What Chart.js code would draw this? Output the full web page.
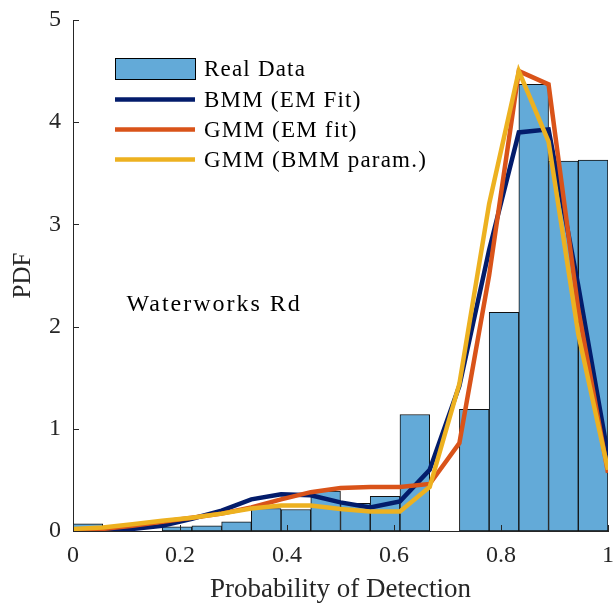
<!DOCTYPE html>
<html>
<head>
<meta charset="utf-8">
<script src="https://cdn.jsdelivr.net/npm/chart.js@4.4.1/dist/chart.umd.min.js"></script>
<style>
  html, body { margin: 0; padding: 0; background: #fff; }
</style>
</head>
<body>
<canvas id="pdfchart" width="613" height="604"></canvas>
<script>
// histogram bins (18 bins of width 1/18) and their heights
const binCenters = [0.0278, 0.0833, 0.1389, 0.1944, 0.25, 0.3056, 0.3611, 0.4167, 0.4722,
                    0.5278, 0.5833, 0.6389, 0.6944, 0.75, 0.8056, 0.8611, 0.9167, 0.9722];
const realData = [0.07, 0, 0, 0.04, 0.05, 0.09, 0.22, 0.21, 0.39,
                  0.27, 0.34, 1.14, 0, 1.19, 2.14, 4.37, 3.62, 3.63];

// fitted curves, evaluated at the bin edges
const curveX = [0, 0.0556, 0.1111, 0.1667, 0.2222, 0.2778, 0.3333, 0.3889, 0.4444, 0.5,
                0.5556, 0.6111, 0.6667, 0.7222, 0.7778, 0.8333, 0.8889, 0.9444, 1];
const bmmFit = [0.0, 0.005, 0.02, 0.05, 0.12, 0.2, 0.31, 0.36, 0.35, 0.28,
                0.23, 0.29, 0.6, 1.42, 2.75, 3.9, 3.93, 2.4, 0.74];
const gmmFit = [0.01, 0.02, 0.05, 0.09, 0.13, 0.17, 0.23, 0.31, 0.38, 0.42,
                0.43, 0.43, 0.46, 0.86, 2.5, 4.5, 4.37, 2.17, 0.57];
const gmmBmmParam = [0.02, 0.035, 0.065, 0.1, 0.13, 0.17, 0.22, 0.25, 0.25, 0.215,
                     0.19, 0.19, 0.43, 1.44, 3.2, 4.5, 3.81, 1.93, 0.6];

const seriesNames = ['Real Data', 'BMM (EM Fit)', 'GMM (EM fit)', 'GMM (BMM param.)'];
const xTicks = [0, 0.2, 0.4, 0.6, 0.8, 1];
const yTicks = [0, 1, 2, 3, 4, 5];
const siteLabel = 'Waterworks Rd';

const FONT = '"Liberation Serif", "Times New Roman", serif';
const AXIS = '#262626';

const toPoints = (xs, ys) => xs.map((x, i) => ({ x: x, y: ys[i] }));

// inward tick marks, legend in the top left, site label
const decorPlugin = {
  id: 'decor',
  afterDatasetsDraw(chart) {
    const ctx = chart.ctx;
    const xs = chart.scales.x, ys = chart.scales.y;
    const area = chart.chartArea;
    ctx.save();
    ctx.strokeStyle = AXIS;
    ctx.lineWidth = 1;
    xTicks.forEach(v => {
      const px = Math.round(xs.getPixelForValue(v)) + 0.5;
      ctx.beginPath();
      ctx.moveTo(px, area.bottom);
      ctx.lineTo(px, area.bottom - 6);
      ctx.stroke();
    });
    yTicks.forEach(v => {
      const py = Math.round(ys.getPixelForValue(v)) + 0.5;
      ctx.beginPath();
      ctx.moveTo(area.left, py);
      ctx.lineTo(area.left + 6, py);
      ctx.stroke();
    });

    // legend
    const ds = chart.data.datasets;
    const lx = 115, lw = 80, tx = 204;
    const rows = [69, 99.5, 129.5, 159.5];
    ctx.font = '23px ' + FONT;
    ctx.letterSpacing = '1.2px';
    ctx.textBaseline = 'middle';
    ds.forEach((d, i) => {
      const y = rows[i];
      if (d.type === 'bar') {
        ctx.fillStyle = d.backgroundColor;
        ctx.fillRect(lx, y - 11, lw, 22);
        ctx.strokeStyle = '#000';
        ctx.lineWidth = 1;
        ctx.strokeRect(lx + 0.5, y - 10.5, lw, 21);
      } else {
        ctx.strokeStyle = d.borderColor;
        ctx.lineWidth = 4.5;
        ctx.beginPath();
        ctx.moveTo(lx, y);
        ctx.lineTo(lx + lw, y);
        ctx.stroke();
      }
      ctx.fillStyle = '#000';
      ctx.fillText(d.label, tx, y + 1);
    });

    // site name
    ctx.font = '24px ' + FONT;
    ctx.letterSpacing = '2px';
    ctx.fillStyle = '#000';
    ctx.fillText(siteLabel, xs.getPixelForValue(0.1), ys.getPixelForValue(2.21));
    ctx.restore();
  }
};

new Chart(document.getElementById('pdfchart'), {
  type: 'bar',
  data: {
    datasets: [
      {
        type: 'bar',
        label: seriesNames[0],
        data: toPoints(binCenters, realData),
        backgroundColor: 'rgb(99,170,216)',
        borderColor: '#111',
        borderWidth: 1,
        borderSkipped: false,
        barPercentage: 1,
        categoryPercentage: 1,
        order: 3
      },
      {
        type: 'line',
        label: seriesNames[1],
        data: toPoints(curveX, bmmFit),
        borderColor: '#031c6b',
        borderWidth: 4.5,
        pointRadius: 0,
        tension: 0,
        order: 2
      },
      {
        type: 'line',
        label: seriesNames[2],
        data: toPoints(curveX, gmmFit),
        borderColor: '#d95319',
        borderWidth: 4.5,
        pointRadius: 0,
        tension: 0,
        order: 1
      },
      {
        type: 'line',
        label: seriesNames[3],
        data: toPoints(curveX, gmmBmmParam),
        borderColor: '#edb120',
        borderWidth: 4.5,
        pointRadius: 0,
        tension: 0,
        order: 0
      }
    ]
  },
  options: {
    responsive: false,
    animation: false,
    layout: { padding: { top: 20, right: 5, left: 0, bottom: 0 } },
    plugins: {
      legend: { display: false },
      tooltip: { enabled: false }
    },
    scales: {
      x: {
        type: 'linear',
        min: 0,
        max: 1,
        offset: false,
        grid: { display: false, drawTicks: false },
        border: { display: true, color: AXIS, width: 1 },
        afterBuildTicks: s => { s.ticks = xTicks.map(v => ({ value: v })); },
        afterFit: s => { s.height = 73; s.paddingLeft = 0; s.paddingRight = 0; },
        ticks: {
          color: AXIS,
          padding: 10,
          maxRotation: 0,
          font: { family: FONT, size: 24 },
          callback: v => String(v)
        },
        title: {
          display: true,
          text: 'Probability of Detection',
          color: AXIS,
          padding: { top: 0, bottom: -2 },
          font: { family: FONT, size: 27 }
        }
      },
      y: {
        min: 0,
        max: 5,
        grid: { display: false, drawTicks: false },
        border: { display: true, color: AXIS, width: 1 },
        afterBuildTicks: s => { s.ticks = yTicks.map(v => ({ value: v })); },
        afterFit: s => { s.width = 73; s.paddingTop = 0; s.paddingBottom = 0; },
        ticks: {
          color: AXIS,
          padding: 12,
          font: { family: FONT, size: 24 }
        },
        title: {
          display: true,
          text: 'PDF',
          color: AXIS,
          padding: { top: 8, bottom: 0 },
          font: { family: FONT, size: 25 }
        }
      }
    }
  },
  plugins: [decorPlugin]
});
</script>
</body>
</html>
